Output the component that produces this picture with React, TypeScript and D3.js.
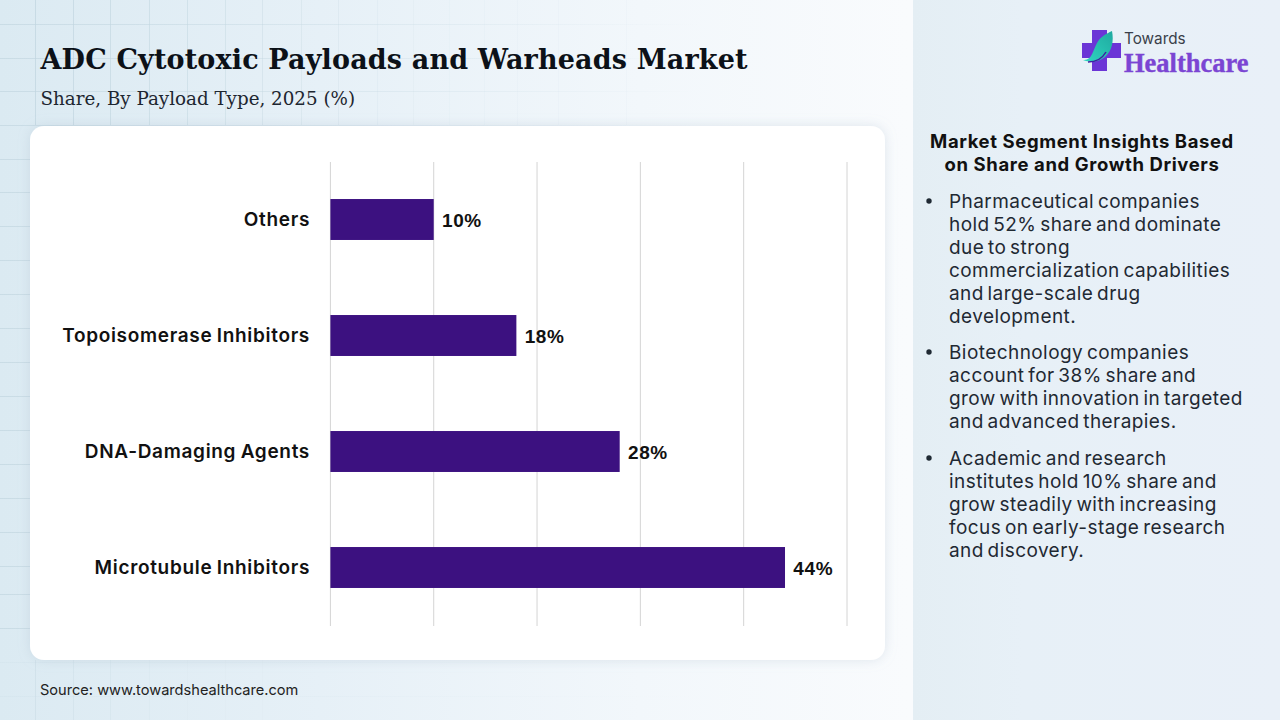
import React from "react";
import * as d3 from "d3";

const categories = ["Others", "Topoisomerase Inhibitors", "DNA-Damaging Agents", "Microtubule Inhibitors"];
const shares = [10, 18, 28, 44];
const ticks = [0, 10, 20, 30, 40, 50];
const gridVertical = [35, 73, 110, 149, 187, 225, 262, 301, 338, 377, 413, 449, 484, 517, 558, 626];
const gridHorizontal = [24, 58, 91, 125, 159, 192, 226, 260, 294, 328, 362, 396, 430, 464, 498, 532, 566, 594, 628, 662, 696];
const insightTitle = ["Market Segment Insights Based", "on Share and Growth Drivers"];
const insights = [
  ["Pharmaceutical companies", "hold 52% share and dominate", "due to strong", "commercialization capabilities", "and large-scale drug", "development."],
  ["Biotechnology companies", "account for 38% share and", "grow with innovation in targeted", "and advanced therapies."],
  ["Academic and research", "institutes hold 10% share and", "grow steadily with increasing", "focus on early-stage research", "and discovery."],
];
const insightTops = [201, 352, 458];

const x = d3.scaleLinear().domain([0, 50]).range([330.4, 847]);
const y = d3.scaleBand<string>().domain(categories).range([161.5, 625.5]).paddingInner(0.647).paddingOuter(0.3235);
const sans = "Inter, 'Open Sans', sans-serif";
const serif = "'DejaVu Serif', serif";

export default function App() {
  return (
    <svg width={1280} height={720} viewBox="0 0 1280 720" style={{ position: "absolute", left: 0, top: 0 }}>
      <defs>
        <linearGradient id="bg" x1="0" y1="0" x2="1" y2="0">
          <stop offset="0" stopColor="#dbeaf2" />
          <stop offset="0.25" stopColor="#e6f0f7" />
          <stop offset="0.5" stopColor="#f2f7fb" />
          <stop offset="0.71" stopColor="#f9fbfd" />
        </linearGradient>
        <linearGradient id="side" x1="0" y1="0" x2="1" y2="0">
          <stop offset="0" stopColor="#e4eef4" />
          <stop offset="0.3" stopColor="#e7f0f7" />
          <stop offset="1" stopColor="#e9f0f8" />
        </linearGradient>
        <linearGradient id="leaf" x1="0" y1="1" x2="1" y2="0">
          <stop offset="0" stopColor="#2fd6c0" />
          <stop offset="1" stopColor="#1fa9a0" />
        </linearGradient>
        <linearGradient id="hfade" gradientUnits="userSpaceOnUse" x1="0" y1="0" x2="700" y2="0">
          <stop offset="0" stopColor="#c2d6e0" stopOpacity="0.7" />
          <stop offset="1" stopColor="#c2d6e0" stopOpacity="0" />
        </linearGradient>
        <filter id="shadow" x="-5%" y="-5%" width="110%" height="110%">
          <feDropShadow dx="0" dy="0" stdDeviation="6" floodColor="#9fb4c4" floodOpacity="0.3" />
        </filter>
      </defs>
      <rect width={1280} height={720} fill="url(#bg)" />
      {gridVertical.map((g) => <rect key={g} x={g} y={0} width={1} height={125} fill="#c2d6e0" fillOpacity={Math.max(0.08, 0.85 - g / 560)} />)}
      {gridVertical.filter((g) => g < 300).map((g) => <rect key={g} x={g} y={660} width={1} height={60} fill="#c2d6e0" fillOpacity={Math.max(0.05, 0.5 - g / 400)} />)}
      {gridHorizontal.map((g) => <rect key={g} x={0} y={g} width={700} height={1} fill="url(#hfade)" fillOpacity={g > 650 ? 0.25 : 1} />)}
      <rect x={913} y={0} width={367} height={720} fill="url(#side)" />

      <text x={40.5} y={69} fontFamily={serif} fontWeight={700} fontSize={27} letterSpacing={0.16} fill="#0c1118">ADC Cytotoxic Payloads and Warheads Market</text>
      <text x={40.5} y={104.5} fontFamily={serif} fontSize={18.3} fill="#1d2630">Share, By Payload Type, 2025 (%)</text>

      <rect x={30} y={126} width={855} height={534} rx={14} fill="#ffffff" filter="url(#shadow)" />

      {ticks.map((t) => (
        <line key={t} x1={x(t)} x2={x(t)} y1={162} y2={626} stroke="#d4d4d4" strokeWidth={1} />
      ))}
      {categories.map((c, i) => {
        const yy = y(c)!;
        const mid = yy + y.bandwidth() / 2;
        return (
          <g key={c}>
            <rect x={x(0)} y={yy} width={x(shares[i]) - x(0)} height={y.bandwidth()} fill="#3c1180" />
            <text x={310} y={mid + 6.3} textAnchor="end" fontFamily={sans} fontWeight={600} fontSize={19} letterSpacing={0.68} wordSpacing={-1} fill="#111">{c}</text>
            <text x={x(shares[i]) + 8.3} y={mid + 7} fontFamily="'Liberation Sans', sans-serif" fontWeight={700} fontSize={19} letterSpacing={0.6} fill="#111">{shares[i]}%</text>
          </g>
        );
      })}

      <text x={40} y={695} fontFamily={sans} fontSize={14.6} fill="#222">Source: www.towardshealthcare.com</text>

      {insightTitle.map((l, i) => (
        <text key={l} x={1082} y={148 + i * 23} textAnchor="middle" fontFamily={sans} fontWeight={700} fontSize={18.5} letterSpacing={0.6} fill="#111">{l}</text>
      ))}
      {insights.map((lines, k) => (
        <g key={k}>
          <circle cx={929} cy={insightTops[k]} r={2.7} fill="#1f2933" />
          {lines.map((l, i) => (
            <text key={l} x={949} y={insightTops[k] + 7 + i * 23} fontFamily={sans} fontSize={19} letterSpacing={0.43} wordSpacing={-2} fill="#1f2933">{l}</text>
          ))}
        </g>
      ))}

      <g>
        <path d="M1092 30h15v13h14v15h-14v13h-15v-13h-10v-15h10z" fill="#6b35d6" />
        <path d="M1083 60c9 1 10-10 14-17s9-9 15-12c2 10 0 20-7 26-6 5-15 6-22 3z" fill="url(#leaf)" />
        <path d="M1088 62c8 0 14-3 18-10" fill="none" stroke="#3f1fa0" strokeWidth={1.5} />
        <text x={1124} y={44} fontFamily={sans} fontSize={15.3} fill="#3a3f4a">Towards</text>
        <text x={1124} y={72} fontFamily="'Liberation Serif', serif" fontWeight={700} fontSize={26.5} stroke="#7b45d3" strokeWidth={0.4} fill="#7b45d3">Healthcare</text>
      </g>
    </svg>
  );
}
